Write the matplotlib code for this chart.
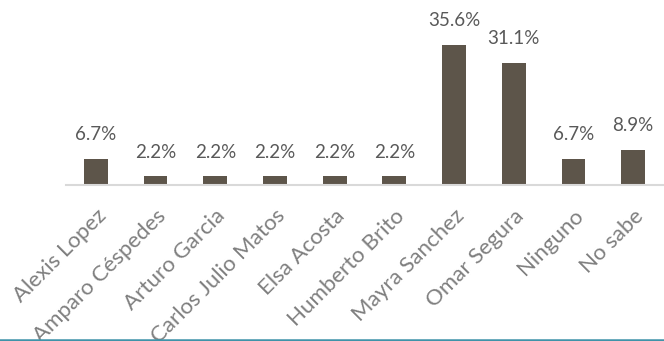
import numpy as np
import matplotlib.pyplot as plt
from matplotlib.lines import Line2D

candidatos = ["Alexis Lopez", "Amparo Céspedes", "Arturo Garcia", "Carlos Julio Matos",
              "Elsa Acosta", "Humberto Brito", "Mayra Sanchez", "Omar Segura",
              "Ninguno", "No sabe"]
porcentajes = [6.7, 2.2, 2.2, 2.2, 2.2, 2.2, 35.6, 31.1, 6.7, 8.9]

plt.rcParams['font.family'] = ['Lato', 'DejaVu Sans']

fig = plt.figure(figsize=(6.64, 3.41), dpi=100)
ax = fig.add_axes([66/664, 1 - 185/341, 597/664, 160/341])

x = np.arange(len(candidatos))
ax.bar(x, porcentajes, width=0.4, color="#5d554a")
for xi, v in zip(x, porcentajes):
    ax.text(xi, v + 4.0, f"{v:.1f}%", ha="center", va="bottom", fontsize=13.5,
            color="#595959", clip_on=False)

ax.set_xlim(-0.5, len(candidatos) - 0.5)
ax.set_ylim(0, 160/3.93)
ax.set_yticks([])
ax.set_xticks(x)
ax.set_xticklabels(candidatos, rotation=45, ha="right", rotation_mode="anchor",
                   fontsize=16, color="#7f7f7f")
ax.tick_params(axis="x", length=0, pad=15)
for s in ["top", "right", "left"]:
    ax.spines[s].set_visible(False)
ax.spines["bottom"].set_color("#d9d9d9")
ax.spines["bottom"].set_linewidth(1.5)

# linea inferior
fig.add_artist(Line2D([0, 1], [1.5/341, 1.5/341], transform=fig.transFigure,
                      color="#3f93a9", linewidth=1.8))

fig.savefig("out.png", dpi=100)
